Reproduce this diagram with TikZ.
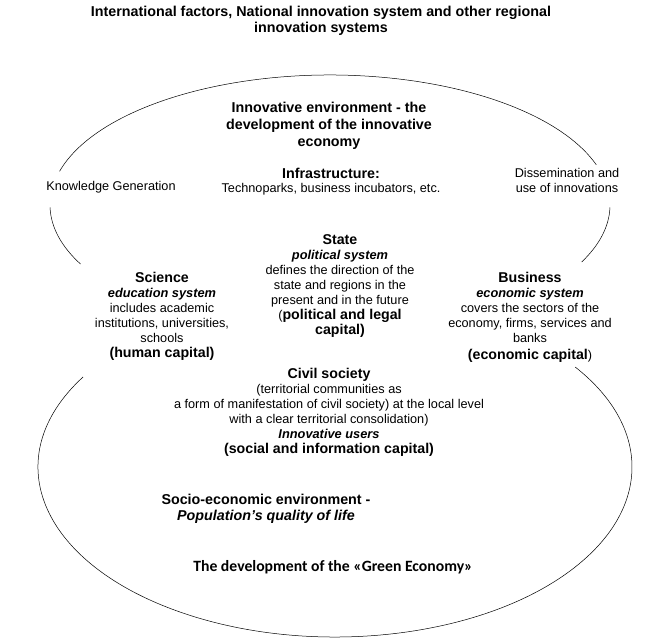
\documentclass[tikz,border=0pt]{standalone}
\usepackage{fontspec}
\setmainfont{Liberation Sans}
\newfontfamily\greenfont{Carlito}
\usepackage{tikz}
\usetikzlibrary{positioning}
\tikzset{txt/.style = {align=center, inner sep=0pt,
                       font=\fontsize{12.7}{15}\selectfont}}
\newcommand{\bigb}[1]{{\fontsize{14.2}{15}\selectfont\bfseries #1}}
\newcommand{\subbi}[1]{{\fontsize{12.8}{15}\selectfont\bfseries\itshape #1}}

\begin{document}
\begin{tikzpicture}[x=1pt, y=-1pt, node distance={16pt}, line width=0.5pt, hd/.style = {txt, font=\fontsize{14.3}{15.5}\selectfont\bfseries}]
\useasboundingbox (0,0) rectangle (667,642);
% the two environments
\draw (330,205) ++(195:280 and 130) arc[start angle=195, end angle=342, x radius=280, y radius=130];
\draw (330,205) ++(179:280 and 130) arc[start angle=179, end angle=153, x radius=280, y radius=130];
\draw (330,205) ++(1:280 and 130) arc[start angle=1, end angle=26, x radius=280, y radius=130];
\draw (335,467) ++(212:297 and 170) arc[start angle=212, end angle=-36, x radius=297, y radius=170];
% texts
\node[hd] (intl) at (321,21) {International factors, National innovation system and other regional\\innovation systems};
\node[hd, font=\fontsize{14.3}{17}\selectfont\bfseries] (innov) at (329,126) {Innovative environment - the\\development of the innovative\\economy};
\node[hd] (infra) at (331,173) {Infrastructure:};
\node[txt] (techno) [below of=infra] {Technoparks, business incubators, etc.};
\node[txt] (knowl) at (111,187) {Knowledge Generation};
\node[txt] (dissem) at (567,180) {Dissemination and\\use of innovations};
\node[txt] (state) at (340,286) {\bigb{State}\\\subbi{political system}\\defines the direction of the\\state and regions in the\\present and in the future\\(\bigb{political and legal}\\\bigb{capital)}};
\node[txt] (science) at (162,316) {\bigb{Science}\\\subbi{education system}\\includes academic\\institutions, universities,\\schools\\\bigb{(human capital)}};
\node[txt] (business) at (530,317) {\bigb{Business}\\\subbi{economic system}\\covers the sectors of the\\economy, firms, services and\\banks\\[2pt]\bigb{(economic capital})};
\node[txt] (civil) at (329,412) {\bigb{Civil society}\\(territorial communities as\\a form of manifestation of civil society) at the local level\\with a clear territorial consolidation)\\\subbi{Innovative users}\\\bigb{(social and information capital)}};
\node[hd] (socio) at (266,509) {Socio-economic environment -\\\textit{Population’s quality of life}};
\node[hd, font=\fontsize{15.7}{16}\greenfont\bfseries] (green) at (333,567) {The development of the «Green Economy»};
\end{tikzpicture}
\end{document}
